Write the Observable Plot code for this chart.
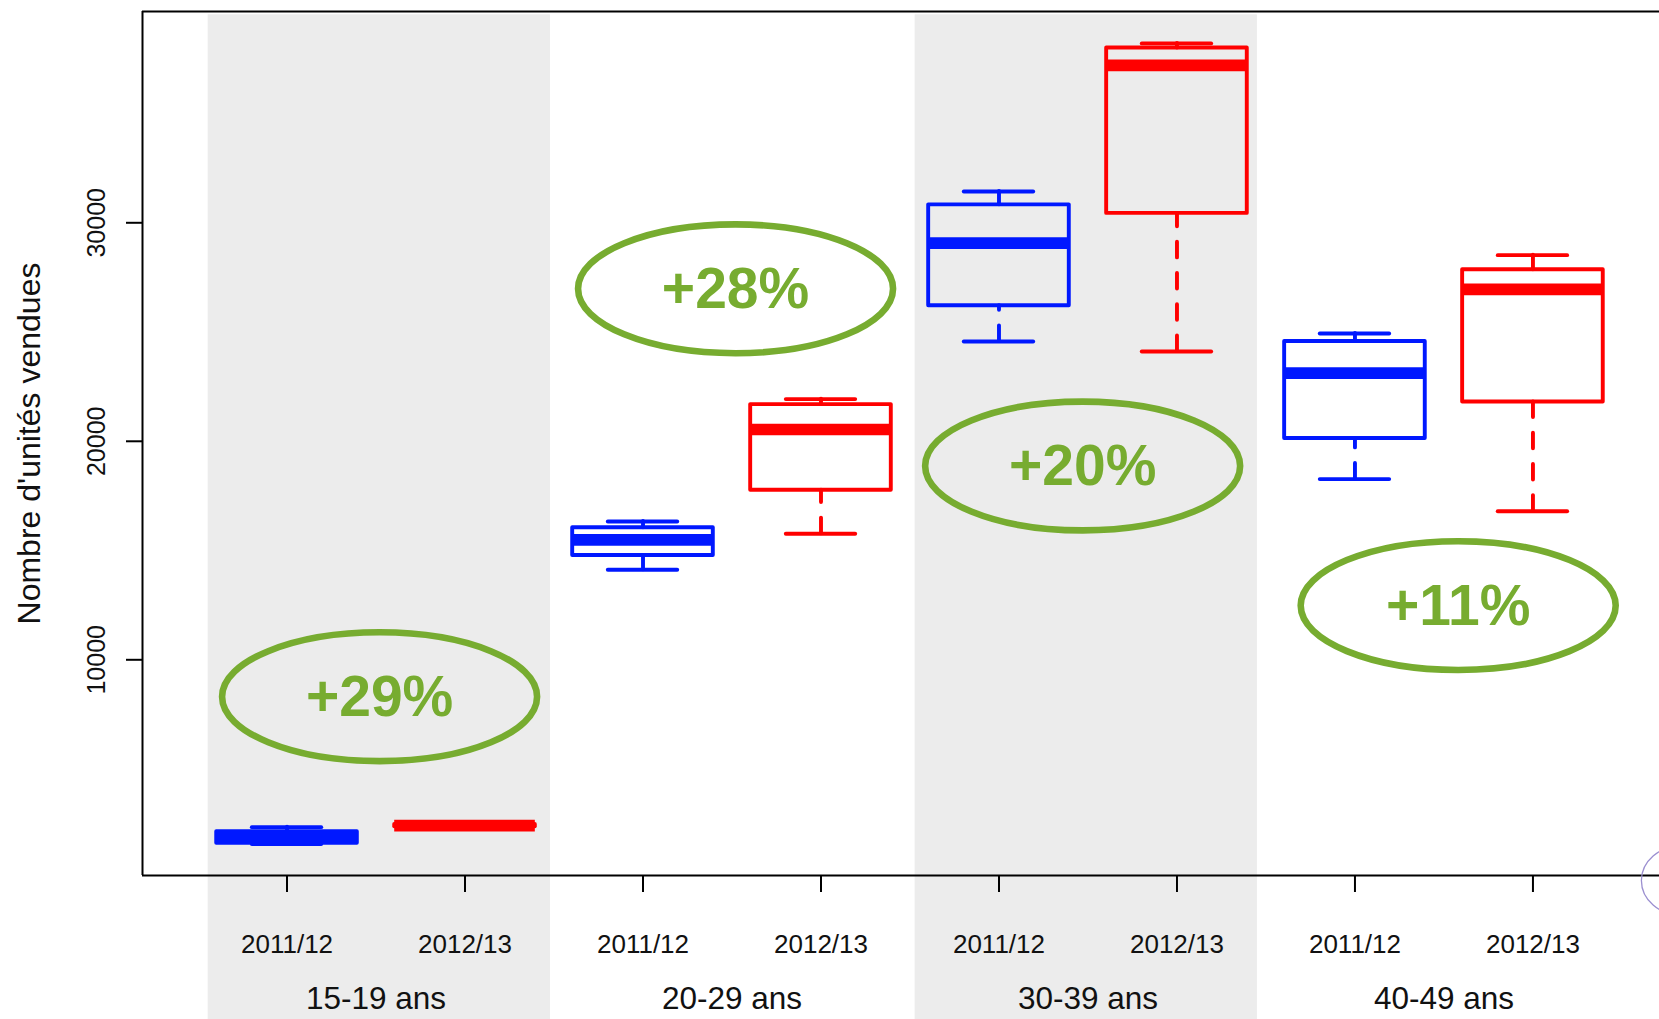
<!DOCTYPE html>
<html>
<head>
<meta charset="utf-8">
<script src="https://cdn.jsdelivr.net/npm/d3@7"></script>
<script src="https://cdn.jsdelivr.net/npm/@observablehq/plot@0.6"></script>
<style>
  html, body { margin: 0; padding: 0; background: #fff; overflow: hidden; }
  svg { display: block; }
</style>
</head>
<body>
<div id="chart"></div>
<script>
// ---- Data ----
const groups = ["15-19 ans", "20-29 ans", "30-39 ans", "40-49 ans"];
const seasons = ["2011/12", "2012/13"];
const positions = [1, 2, 3, 4, 5, 6, 7, 8];
const lowWhisker  = [1570, 2340, 14120, 15770, 24570, 24110, 18270, 16800];
const lowerQuart  = [1600, 2360, 14770, 17760, 26200, 30430, 20130, 21800];
const medians     = [1870, 2410, 15490, 20540, 29070, 37200, 23120, 26950];
const upperQuart  = [2130, 2460, 16040, 21680, 30820, 38000, 24570, 27850];
const highWhisker = [2340, 2480, 16330, 21930, 31430, 38210, 24930, 28520];
const yTicks = [10000, 20000, 30000];
const yTitle = "Nombre d'unités vendues";
const bandStart = [0.557, 4.529];
const bandEnd = [2.480, 6.452];
const growthLabels = ["+29%", "+28%", "+20%", "+11%"];
const growthX = [1.52, 3.52, 5.47, 7.58];
const growthY = [8310, 26980, 18870, 12480];
const stampX = [8.834];
const stampY = [-100];

// ---- Tables built from the arrays ----
const boxes = positions.map((p, i) => ({
  pos: p,
  season: seasons[i % 2],
  group: groups[Math.floor(i / 2)],
  lo: lowWhisker[i], q1: lowerQuart[i], med: medians[i], q3: upperQuart[i], hi: highWhisker[i]
}));
const groupRows = groups.map((g) => ({
  label: g,
  x: d3.mean(boxes.filter(b => b.group === g), b => b.pos)
}));
const bands = bandStart.map((s, i) => ({start: s, end: bandEnd[i]}));
const growth = growthLabels.map((t, i) => ({label: t, x: growthX[i], y: growthY[i]}));
const stamp = stampX.map((x, i) => ({x, y: stampY[i]}));

// ---- Styles ----
const xDomain = [0.188, 8.711];
const yDomain = [128, 39670];
const halfBox = 0.395, halfCap = 0.195;
const boxLw = 3.9, medLw = 11.7;
const green = "#77ac30";

function ellipseSymbol(rx, ry) {
  const k = 0.5522847498;
  return {
    draw(ctx) {
      ctx.moveTo(rx, 0);
      ctx.bezierCurveTo(rx, ry * k, rx * k, ry, 0, ry);
      ctx.bezierCurveTo(-rx * k, ry, -rx, ry * k, -rx, 0);
      ctx.bezierCurveTo(-rx, -ry * k, -rx * k, -ry, 0, -ry);
      ctx.bezierCurveTo(rx * k, -ry, rx, -ry * k, rx, 0);
      ctx.closePath();
    }
  };
}

const chart = Plot.plot({
  width: 1659,
  height: 1019,
  marginLeft: 142,
  marginRight: 0,
  marginTop: 11,
  marginBottom: 144,
  style: {fontFamily: "'Liberation Sans', Arial, Helvetica, sans-serif", background: "#fff", color: "#000"},
  x: {type: "linear", domain: xDomain},
  y: {type: "linear", domain: yDomain},
  color: {domain: seasons, range: ["#0018ff", "#ff0000"]},
  marks: [
    // shaded age-group bands
    Plot.rect(bands, {
      x1: "start", x2: "end",
      y1: () => yDomain[0], y2: () => yDomain[1],
      fill: "#ececec", insetTop: 3.3, insetBottom: -144
    }),
    // frame lines
    Plot.ruleY([yDomain[1]], {stroke: "#000", strokeWidth: 2}),
    Plot.ruleY([yDomain[0]], {stroke: "#000", strokeWidth: 2}),
    Plot.ruleX([xDomain[0]], {stroke: "#000", strokeWidth: 2}),
    // axes ticks
    Plot.axisY({ticks: yTicks, tickSize: 16, tickFormat: () => "", strokeWidth: 2, label: null, anchor: "left"}),
    Plot.axisX({ticks: positions, tickSize: 17, tickFormat: () => "", strokeWidth: 2, label: null, anchor: "bottom"}),
    // tick labels
    Plot.text(yTicks, {y: d => d, text: d => String(d), frameAnchor: "left", textAnchor: "middle", lineAnchor: "middle", dx: -46, rotate: -90, fontSize: 25, fill: "#111"}),
    Plot.text([yTitle], {text: d => d, frameAnchor: "left", textAnchor: "middle", lineAnchor: "middle", dx: -113, rotate: -90, fontSize: 32, fill: "#111"}),
    Plot.text(boxes, {x: "pos", text: "season", frameAnchor: "bottom", lineAnchor: "middle", dy: 69, fontSize: 26, fill: "#111"}),
    Plot.text(groupRows, {x: "x", text: "label", frameAnchor: "bottom", lineAnchor: "middle", dy: 123, fontSize: 31.5, fill: "#111"}),
    // whiskers (dashed, drawn from the whisker end toward the box)
    Plot.ruleX(boxes, {x: "pos", y1: "lo", y2: "q1", stroke: "season", strokeWidth: boxLw, strokeDasharray: "15.6,15.6", strokeLinecap: "round"}),
    Plot.ruleX(boxes, {x: "pos", y1: "hi", y2: "q3", stroke: "season", strokeWidth: boxLw, strokeDasharray: "15.6,15.6", strokeLinecap: "round"}),
    // staples
    Plot.ruleY(boxes, {y: "lo", x1: d => d.pos - halfCap, x2: d => d.pos + halfCap, stroke: "season", strokeWidth: boxLw, strokeLinecap: "round"}),
    Plot.ruleY(boxes, {y: "hi", x1: d => d.pos - halfCap, x2: d => d.pos + halfCap, stroke: "season", strokeWidth: boxLw, strokeLinecap: "round"}),
    // boxes
    Plot.rect(boxes, {x1: d => d.pos - halfBox, x2: d => d.pos + halfBox, y1: "q1", y2: "q3", fill: "none", stroke: "season", strokeWidth: boxLw, strokeLinejoin: "round"}),
    // medians
    Plot.ruleY(boxes, {y: "med", x1: d => d.pos - halfBox, x2: d => d.pos + halfBox, stroke: "season", strokeWidth: medLw}),
    // growth annotations
    Plot.dot(growth, {x: "x", y: "y", r: 1, symbol: ellipseSymbol(157.5, 64.4), fill: "none", stroke: green, strokeWidth: 6.6}),
    Plot.text(growth, {x: "x", y: "y", text: "label", fontSize: 57, fontWeight: "bold", fill: green, dy: 1}),
    // small stray stamp at the right edge
    Plot.dot(stamp, {x: "x", y: "y", r: 1, symbol: ellipseSymbol(40, 34.7), fill: "none", stroke: "#9b8fd0", strokeWidth: 1.3})
  ]
});

document.getElementById("chart").appendChild(chart);
</script>
</body>
</html>
